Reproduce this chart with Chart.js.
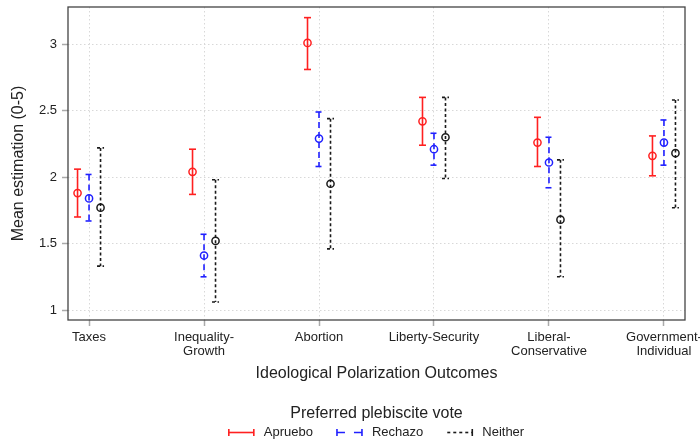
<!DOCTYPE html>
<html>
<head>
<meta charset="utf-8">
<script src="https://cdn.jsdelivr.net/npm/chart.js@4.4.1/dist/chart.umd.min.js"></script>
<style>
  html, body { margin: 0; padding: 0; background: #fff; }
  canvas { display: block; }
</style>
</head>
<body>
<canvas id="chart" width="700" height="441"></canvas>
<script>
// Outcome categories (x axis) and y tick values
const categories = [['Taxes'], ['Inequality-', 'Growth'], ['Abortion'], ['Liberty-Security'], ['Liberal-', 'Conservative'], ['Government-', 'Individual']];
const yTickValues = [1, 1.5, 2, 2.5, 3];
const seriesNames = ['Apruebo', 'Rechazo', 'Neither'];

// Mean estimates with lower / upper confidence bounds
const aprueboMean = [1.88, 2.04, 3.01, 2.42, 2.26, 2.16];
const aprueboLow  = [1.70, 1.87, 2.81, 2.24, 2.08, 2.01];
const aprueboHigh = [2.06, 2.21, 3.20, 2.60, 2.45, 2.31];

const rechazoMean = [1.84, 1.41, 2.29, 2.21, 2.11, 2.26];
const rechazoLow  = [1.67, 1.25, 2.08, 2.09, 1.92, 2.09];
const rechazoHigh = [2.02, 1.57, 2.49, 2.33, 2.30, 2.43];

const neitherMean = [1.77, 1.52, 1.95, 2.30, 1.68, 2.18];
const neitherLow  = [1.33, 1.06, 1.46, 1.99, 1.25, 1.77];
const neitherHigh = [2.22, 1.98, 2.44, 2.60, 2.13, 2.58];

const FONT = '"Liberation Sans", Arial, sans-serif';
const TEXT = '#222';

const seriesStyle = [
  { color: '#ff2020', dash: [], legendDash: [], caps: [true, true] },
  { color: '#2020ff', dash: [6, 4], legendDash: [8, 9], caps: [true, true] },
  { color: '#1a1a1a', dash: [3, 2.5], legendDash: [3, 3], caps: [false, true] }
];
const dodge = [-0.1, 0, 0.1];

function buildSeries(mean, low, high, k) {
  return mean.map((m, i) => ({ x: i + dodge[k], y: m, lo: low[i], hi: high[i] }));
}
const seriesData = [
  buildSeries(aprueboMean, aprueboLow, aprueboHigh, 0),
  buildSeries(rechazoMean, rechazoLow, rechazoHigh, 1),
  buildSeries(neitherMean, neitherLow, neitherHigh, 2)
];

const datasets = seriesNames.map((name, k) => ({
  label: name,
  data: seriesData[k],
  showLine: false,
  pointStyle: 'circle',
  pointRadius: 3.6,
  pointBorderWidth: 1.5,
  borderColor: seriesStyle[k].color,
  backgroundColor: 'rgba(0,0,0,0)',
  errDash: seriesStyle[k].dash,
  legendDash: seriesStyle[k].legendDash,
  legendCaps: seriesStyle[k].caps
}));

// Plot frame around the chart area
const frame = {
  id: 'frame',
  beforeDatasetsDraw(chart) {
    const { ctx, chartArea: a } = chart;
    ctx.save();
    ctx.strokeStyle = '#444';
    ctx.lineWidth = 1.3;
    ctx.strokeRect(a.left, a.top, a.right - a.left, a.bottom - a.top);
    ctx.restore();
  }
};

// Vertical confidence intervals with caps
const errorBars = {
  id: 'errorBars',
  beforeDatasetsDraw(chart) {
    const { ctx, scales: { x, y } } = chart;
    const cap = 3.5;
    chart.data.datasets.forEach(ds => {
      ctx.save();
      ctx.strokeStyle = ds.borderColor;
      ctx.lineWidth = 1.6;
      ds.data.forEach(p => {
        const px = x.getPixelForValue(p.x);
        const yLo = y.getPixelForValue(p.lo);
        const yHi = y.getPixelForValue(p.hi);
        ctx.setLineDash(ds.errDash);
        ctx.beginPath();
        ctx.moveTo(px, yHi);
        ctx.lineTo(px, yLo);
        ctx.stroke();
        ctx.setLineDash(ds.errDash);
        ctx.beginPath();
        ctx.moveTo(px - cap, yHi); ctx.lineTo(px + cap, yHi);
        ctx.stroke();
        ctx.beginPath();
        ctx.moveTo(px - cap, yLo); ctx.lineTo(px + cap, yLo);
        ctx.stroke();
      });
      ctx.restore();
    });
  }
};

// Legend below the axis title
const bottomLegend = {
  id: 'bottomLegend',
  afterDraw(chart) {
    const { ctx, chartArea: a } = chart;
    const cx = (a.left + a.right) / 2;
    const titleY = chart.height - 27;
    const itemY = chart.height - 8.5;
    ctx.save();
    ctx.fillStyle = TEXT;
    ctx.textBaseline = 'middle';
    ctx.textAlign = 'center';
    ctx.font = '16px ' + FONT;
    ctx.fillText('Preferred plebiscite vote', cx, titleY);

    ctx.font = '13px ' + FONT;
    const sym = 25, gapSym = 10, gapItem = 24;
    const widths = chart.data.datasets.map(ds => ctx.measureText(ds.label).width);
    const total = widths.reduce((s, w) => s + sym + gapSym + w, 0) + gapItem * (widths.length - 1);
    let x0 = cx - total / 2;
    ctx.textAlign = 'left';
    chart.data.datasets.forEach((ds, i) => {
      ctx.strokeStyle = ds.borderColor;
      ctx.lineWidth = 1.6;
      ctx.setLineDash(ds.legendDash);
      ctx.beginPath();
      ctx.moveTo(x0, itemY); ctx.lineTo(x0 + sym, itemY);
      ctx.stroke();
      ctx.setLineDash([]);
      ctx.beginPath();
      if (ds.legendCaps[0]) { ctx.moveTo(x0, itemY - 3.5); ctx.lineTo(x0, itemY + 3.5); }
      if (ds.legendCaps[1]) { ctx.moveTo(x0 + sym, itemY - 3.5); ctx.lineTo(x0 + sym, itemY + 3.5); }
      ctx.stroke();
      ctx.fillText(ds.label, x0 + sym + gapSym, itemY);
      x0 += sym + gapSym + widths[i] + gapItem;
    });
    ctx.restore();
  }
};

new Chart(document.getElementById('chart'), {
  type: 'scatter',
  data: { datasets },
  plugins: [frame, errorBars, bottomLegend],
  options: {
    responsive: false,
    animation: false,
    layout: { padding: { left: 9, right: 15, top: 7, bottom: 58 } },
    plugins: { legend: { display: false }, tooltip: { enabled: false } },
    scales: {
      x: {
        type: 'linear',
        min: -0.183,
        max: 5.183,
        afterBuildTicks: s => { s.ticks = categories.map((c, i) => ({ value: i })); },
        afterFit: s => { s.height = 63; s.paddingLeft = 0; s.paddingRight = 0; },
        ticks: {
          autoSkip: false, maxRotation: 0, minRotation: 0, padding: 4,
          color: TEXT,
          font: { family: FONT, size: 13, lineHeight: 1.08 },
          callback: v => categories[Math.round(v)]
        },
        grid: { color: '#d8d8d8', lineWidth: 1, drawTicks: true, tickLength: 6, tickColor: '#aaa', tickWidth: 1.5 },
        border: { display: false, dash: [1.5, 2.5] },
        title: {
          display: true, text: 'Ideological Polarization Outcomes', color: TEXT,
          font: { family: FONT, size: 16 }, padding: { top: 0, bottom: 0 }
        }
      },
      y: {
        min: 0.925,
        max: 3.28,
        afterBuildTicks: s => { s.ticks = yTickValues.map(v => ({ value: v })); },
        afterFit: s => { s.width = 59; s.paddingTop = 0; s.paddingBottom = 0; },
        ticks: {
          padding: 5, color: TEXT,
          font: { family: FONT, size: 13 },
          callback: v => String(v)
        },
        grid: { color: '#d8d8d8', lineWidth: 1, drawTicks: true, tickLength: 6, tickColor: '#aaa', tickWidth: 1.5 },
        border: { display: false, dash: [1.5, 2.5] },
        title: {
          display: true, text: 'Mean estimation (0-5)', color: TEXT,
          font: { family: FONT, size: 16 }, padding: { top: 0, bottom: 0 }
        }
      }
    }
  }
});
</script>
</body>
</html>
